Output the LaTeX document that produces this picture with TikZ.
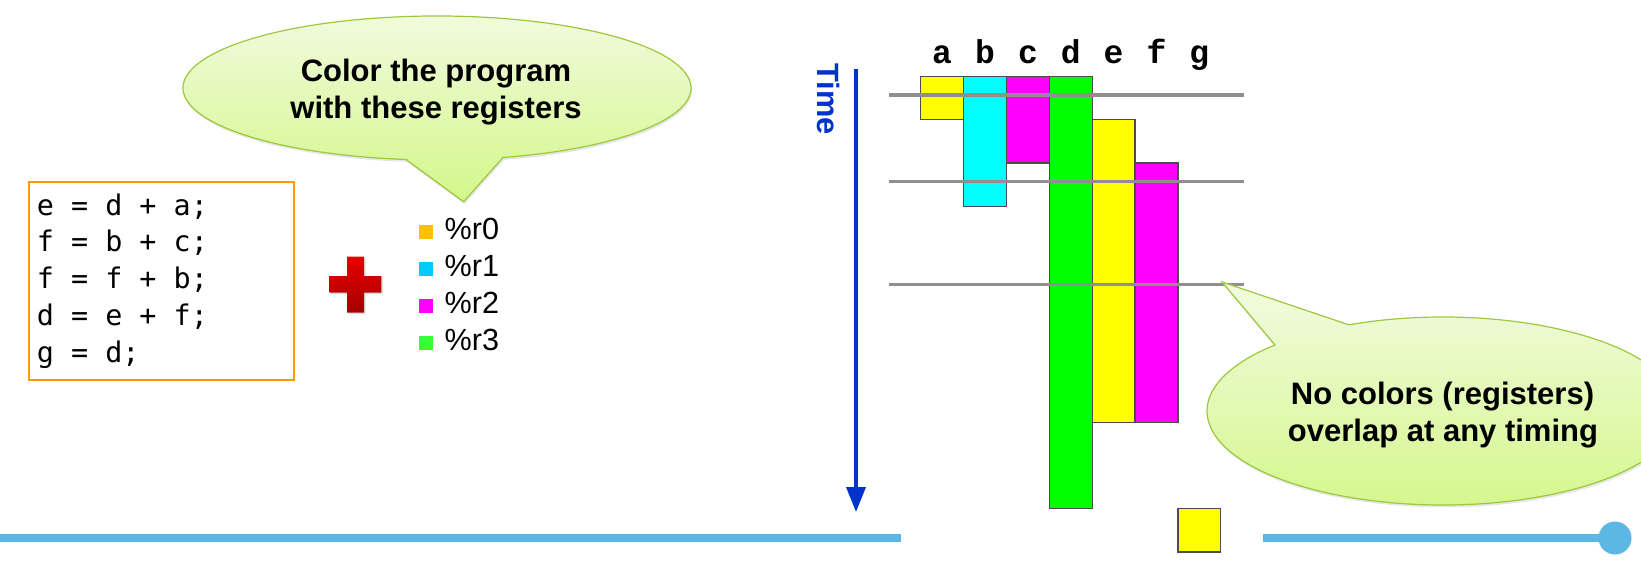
\documentclass[tikz,border=0pt]{standalone}
\usepackage{fontspec}
\setmainfont{Liberation Sans}
\newfontfamily\codefont{DejaVu Sans Mono}
\newfontfamily\colfont{Liberation Mono}
\usetikzlibrary{arrows.meta,shadows,calc}
\definecolor{bubbleborder}{HTML}{9CC83C}
\definecolor{bubbletop}{HTML}{F2FBE0}
\definecolor{bubblebot}{HTML}{D3F78A}
\definecolor{codeorange}{HTML}{FF9A00}
\definecolor{timeblue}{HTML}{0033CC}
\definecolor{gridgray}{HTML}{8F8F8F}
\definecolor{baseblue}{HTML}{5DB7E4}
\definecolor{plustop}{HTML}{E80000}
\definecolor{plusbot}{HTML}{A50000}
\definecolor{rzero}{HTML}{FFC000}
\definecolor{rone}{HTML}{00CCFF}
\definecolor{rtwo}{HTML}{FF00FF}
\definecolor{rthree}{HTML}{33FF33}
\definecolor{barY}{HTML}{FFFF00}
\definecolor{barC}{HTML}{00FFFF}
\definecolor{barM}{HTML}{FF00FF}
\definecolor{barG}{HTML}{00FF00}
\begin{document}
\begin{tikzpicture}[x=0.5pt,y=-0.5pt,
  bubble/.style={draw=bubbleborder, line width=0.6pt, top color=bubbletop, bottom color=bubblebot,
    drop shadow={shadow xshift=0.5pt, shadow yshift=-1.2pt, opacity=0.2}},
  bubbletext/.style={font=\bfseries\fontsize{15.5pt}{18.4pt}\selectfont, inner sep=0pt, anchor=base},
  codeline/.style={font=\codefont\fontsize{14.2pt}{18pt}\selectfont, inner sep=0pt, anchor=base west},
  legtext/.style={font=\fontsize{15.3pt}{18pt}\selectfont, inner sep=0pt, anchor=base west},
  collabel/.style={font=\colfont\bfseries\fontsize{16.5pt}{18pt}\selectfont, inner sep=0pt, anchor=base},
  regbar/.style={draw=black!70, line width=0.6pt},
  gridline/.style={draw=gridgray, line width=1.65pt},
  baseline/.style={draw=baseblue, line width=4pt},
  timearrow/.style={draw=timeblue, line width=1.8pt, -{Triangle[length=12.5pt,width=9.5pt]}}
]
\useasboundingbox (0,0) rectangle (1641,561);
\clip (0,0) rectangle (1641,561);

% bottom base lines
\coordinate (bl1) at (0,538);
\coordinate (bl2) at (900.7,538);
\coordinate (bl3) at (1263,538);
\coordinate (bl4) at (1615,538);
\draw[baseline] (bl1) -- (bl2);
\draw[baseline] (bl3) -- (bl4);
\fill[baseblue] (bl4) circle[radius=16.5];

% code box
\draw[codeorange, line width=1.25pt] (29,182) rectangle (294,380);
\node[codeline] (code1) at (36.5,215) {e = d + a;};
\node[codeline] (code2) at (36.5,251.7) {f = b + c;};
\node[codeline] (code3) at (36.5,288.3) {f = f + b;};
\node[codeline] (code4) at (36.5,325.5) {d = e + f;};
\node[codeline] (code5) at (36.5,362.5) {g = d;};

% plus sign
\shade[top color=plustop, bottom color=plusbot, drop shadow={shadow xshift=0.8pt, shadow yshift=-0.8pt, opacity=0.25}]
  (347,256.7) -- (364,256.7) -- (364,276) -- (381.3,276) -- (381.3,292.7) -- (364,292.7)
  -- (364,312.7) -- (347,312.7) -- (347,292.7) -- (329.3,292.7) -- (329.3,276) -- (347,276) -- cycle;

% legend
\fill[rzero] (419,225) rectangle (433.3,239);
\fill[rone] (419,262.3) rectangle (433.3,276);
\fill[rtwo] (419,299.3) rectangle (433.3,313.3);
\fill[rthree] (419,336) rectangle (433.3,350);
\node[legtext] (r0) at (444.3,239) {\%r0};
\node[legtext] (r1) at (444.3,276) {\%r1};
\node[legtext] (r2) at (444.3,313.3) {\%r2};
\node[legtext] (r3) at (444.3,350) {\%r3};

% top bubble
\path[bubble] (406,159.5) -- (463.6,201.7) -- ($(437,88)+(74.94:254 and 72)$)
  arc[start angle=74.94, end angle=-263, x radius=254, y radius=72] -- cycle;
\node[bubbletext] (tb1) at (436,81.7) {Color the program};
\node[bubbletext] (tb2) at (436,118.3) {with these registers};

% time arrow
\coordinate (tstart) at (856,69);
\coordinate (tend) at (856,512);
\draw[timearrow] (tstart) -- (tend);
\node[rotate=-90, font=\bfseries\fontsize{15.4pt}{18pt}\selectfont, text=timeblue, inner sep=0pt] (time) at (828,99) {Time};

% column labels
\node[collabel] (la) at (942.1,63.3) {a};
\node[collabel] (lb) at (985.0,63.3) {b};
\node[collabel] (lc) at (1027.9,63.3) {c};
\node[collabel] (ld) at (1070.7,63.3) {d};
\node[collabel] (le) at (1113.6,63.3) {e};
\node[collabel] (lf) at (1156.4,63.3) {f};
\node[collabel] (lg) at (1199.3,63.3) {g};

% live ranges
\draw[regbar, fill=barY] (920.7,76.7) rectangle (963.6,119.9);
\draw[regbar, fill=barC] (963.6,76.7) rectangle (1006.4,206.3);
\draw[regbar, fill=barM] (1006.4,76.7) rectangle (1049.3,163.1);
\draw[regbar, fill=barG] (1049.3,76.7) rectangle (1092.1,508.7);
\draw[regbar, fill=barY] (1092.1,119.9) rectangle (1135.0,422.3);
\draw[regbar, fill=barM] (1135.0,163.1) rectangle (1177.9,422.3);
\draw[regbar, fill=barY] (1177.9,508.7) rectangle (1220.7,551.9);

% timing lines
\coordinate (g1a) at (889,95);      \coordinate (g1b) at (1244,95);
\coordinate (g2a) at (889,181.7);   \coordinate (g2b) at (1244,181.7);
\coordinate (g3a) at (889,284.3);   \coordinate (g3b) at (1244,284.3);
\draw[gridline] (g1a) -- (g1b);
\draw[gridline] (g2a) -- (g2b);
\draw[gridline] (g3a) -- (g3b);

% bottom bubble
\path[bubble] ($(1443,411)+(-135.4:236 and 94)$) -- (1222,282) -- ($(1443,411)+(-113.5:236 and 94)$)
  arc[start angle=-113.5, end angle=224.6, x radius=236, y radius=94] -- cycle;
\node[bubbletext] (bb1) at (1442.5,404) {No colors (registers)};
\node[bubbletext] (bb2) at (1443,441) {overlap at any timing};
\end{tikzpicture}
\end{document}
